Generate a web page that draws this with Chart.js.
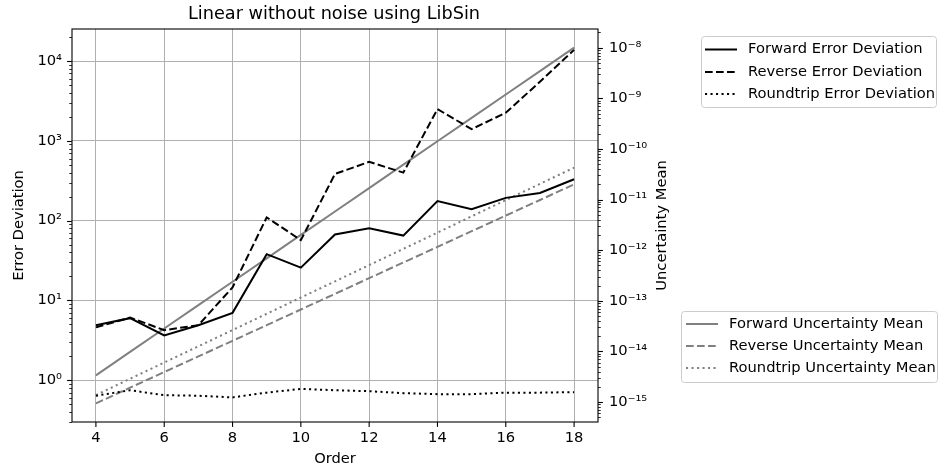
<!DOCTYPE html>
<html>
<head>
<meta charset="utf-8">
<script src="https://cdn.jsdelivr.net/npm/chart.js@4.4.0/dist/chart.umd.min.js"></script>
<style>
  html, body { margin: 0; padding: 0; background: #fff; }
</style>
</head>
<body>
<canvas id="myChart" width="943" height="469"></canvas>
<script>
// data
const orders = [4, 5, 6, 7, 8, 9, 10, 11, 12, 13, 14, 15, 16, 17, 18];
const xTicks = [4, 6, 8, 10, 12, 14, 16, 18];

const forwardErr = [4.9, 6.0, 3.65, 4.9, 7.0, 38, 25.8, 67, 80, 65, 176, 139, 193, 222, 330];
const reverseErr = [4.6, 6.1, 4.25, 4.9, 14.6, 110, 57, 385, 545, 400, 2500, 1400, 2250, 5500, 13800];
const roundErr = [0.64, 0.75, 0.65, 0.64, 0.61, 0.70, 0.78, 0.75, 0.73, 0.69, 0.67, 0.67, 0.70, 0.70, 0.71];

const forwardUnc = [3.37e-15, 9.8e-15, 2.83e-14, 8.2e-14, 2.38e-13, 6.9e-13, 2.0e-12, 5.8e-12, 1.68e-11, 4.9e-11, 1.42e-10, 4.1e-10, 1.19e-9, 3.45e-9, 1.0e-8];
const reverseUnc = [9.4e-16, 1.92e-15, 3.91e-15, 7.96e-15, 1.62e-14, 3.3e-14, 6.73e-14, 1.37e-13, 2.8e-13, 5.7e-13, 1.16e-12, 2.37e-12, 4.82e-12, 9.8e-12, 2.0e-11];
const roundUnc = [1.37e-15, 2.88e-15, 6.03e-15, 1.26e-14, 2.64e-14, 5.53e-14, 1.16e-13, 2.42e-13, 5.07e-13, 1.06e-12, 2.22e-12, 4.66e-12, 9.75e-12, 2.04e-11, 4.27e-11];

const leftDecades = [1, 10, 100, 1000, 10000];
const rightDecades = [1e-15, 1e-14, 1e-13, 1e-12, 1e-11, 1e-10, 1e-9, 1e-8];

const FONT = '"DejaVu Sans", Verdana, sans-serif';
const FS = 14.7;
const DASH = [7.7, 3.3];
const DOT = [2.1, 3.4];

function pts(vals) {
    return orders.map(function(o, i) { return { x: o, y: vals[i] }; });
}

var supMap = { '-': '\u207B', '0': '\u2070', '1': '\u00B9', '2': '\u00B2', '3': '\u00B3',
    '4': '\u2074', '5': '\u2075', '6': '\u2076', '7': '\u2077', '8': '\u2078', '9': '\u2079' };
function powLabel(v) {
    var e = Math.round(Math.log10(v));
    return '10' + String(e).split('').map(function(c) { return supMap[c]; }).join('');
}

function line(label, vals, color, dash, axis) {
    return {
        label: label,
        data: pts(vals),
        yAxisID: axis,
        borderColor: color,
        backgroundColor: color,
        borderWidth: 2,
        borderDash: dash,
        borderCapStyle: 'butt',
        pointRadius: 0,
        tension: 0,
        fill: false
    };
}

// frame, tick marks, title, right axis label, the two legends
const decor = {
    id: 'decor',
    afterDraw: function(chart) {
        var ctx = chart.ctx, a = chart.chartArea;
        var yl = chart.scales.yLeft, yr = chart.scales.yRight, x = chart.scales.x;
        ctx.save();
        ctx.strokeStyle = '#000';
        ctx.lineWidth = 1.1;
        ctx.strokeRect(a.left, a.top, a.right - a.left, a.bottom - a.top);

        function tick(x1, y1, x2, y2, w) {
            ctx.lineWidth = w;
            ctx.beginPath(); ctx.moveTo(x1, y1); ctx.lineTo(x2, y2); ctx.stroke();
        }
        xTicks.forEach(function(v) {
            var px = x.getPixelForValue(v);
            tick(px, a.bottom, px, a.bottom + 4.9, 1.1);
        });
        function logTicks(scale, side) {
            var lo = Math.floor(Math.log10(scale.min)), hi = Math.ceil(Math.log10(scale.max));
            for (var d = lo; d <= hi; d++) {
                for (var k = 1; k <= 9; k++) {
                    var v = k * Math.pow(10, d);
                    if (v < scale.min || v > scale.max) continue;
                    var py = Math.round(scale.getPixelForValue(v)) + 0.5;
                    var len = k === 1 ? 4.9 : 2.8;
                    var w = k === 1 ? 1.1 : 0.8;
                    if (side < 0) tick(a.left - len, py, a.left, py, w);
                    else tick(a.right, py, a.right + len, py, w);
                }
            }
        }
        logTicks(yl, -1);
        logTicks(yr, 1);

        ctx.fillStyle = '#000';
        ctx.textAlign = 'center';
        ctx.textBaseline = 'middle';
        ctx.font = '17.7px ' + FONT;
        ctx.fillText('Linear without noise using LibSin', (a.left + a.right) / 2 - 1, 14);

        ctx.save();
        ctx.font = FS + 'px ' + FONT;
        ctx.translate(662, (a.top + a.bottom) / 2);
        ctx.rotate(-Math.PI / 2);
        ctx.fillText('Uncertainty Mean', 0, 0);
        ctx.restore();

        function legend(box, items, sx, tx, rows) {
            ctx.save();
            ctx.globalAlpha = 0.8;
            ctx.fillStyle = '#fff';
            ctx.strokeStyle = '#cccccc';
            ctx.lineWidth = 1;
            ctx.beginPath();
            ctx.roundRect(box[0] + 0.5, box[1] + 0.5, box[2], box[3], 3);
            ctx.fill();
            ctx.globalAlpha = 1;
            ctx.stroke();
            ctx.restore();
            items.forEach(function(ds, i) {
                ctx.save();
                ctx.strokeStyle = ds.borderColor;
                ctx.lineWidth = 2;
                ctx.lineCap = 'butt';
                ctx.setLineDash(ds.borderDash);
                ctx.beginPath();
                ctx.moveTo(sx, rows[i]); ctx.lineTo(sx + 32, rows[i]);
                ctx.stroke();
                ctx.restore();
                ctx.fillStyle = '#000';
                ctx.textAlign = 'left';
                ctx.textBaseline = 'middle';
                ctx.font = FS + 'px ' + FONT;
                ctx.fillText(ds.label, tx, rows[i]);
            });
        }
        var ds = chart.data.datasets;
        legend([701, 36, 235, 71], [ds[0], ds[1], ds[2]], 705, 748, [49.5, 72, 94]);
        legend([681, 311, 256, 71], [ds[3], ds[4], ds[5]], 686, 729, [324, 346, 368]);
        ctx.restore();
    }
};

new Chart(document.getElementById('myChart'), {
    type: 'line',
    data: {
        datasets: [
            line('Forward Error Deviation', forwardErr, '#000000', [], 'yLeft'),
            line('Reverse Error Deviation', reverseErr, '#000000', DASH, 'yLeft'),
            line('Roundtrip Error Deviation', roundErr, '#000000', DOT, 'yLeft'),
            line('Forward Uncertainty Mean', forwardUnc, '#808080', [], 'yRight'),
            line('Reverse Uncertainty Mean', reverseUnc, '#808080', DASH, 'yRight'),
            line('Roundtrip Uncertainty Mean', roundUnc, '#808080', DOT, 'yRight')
        ]
    },
    options: {
        responsive: false,
        animation: false,
        devicePixelRatio: 1,
        layout: { padding: { top: 29, right: 273, bottom: 0, left: 0 } },
        plugins: {
            legend: { display: false },
            tooltip: { enabled: false },
            title: { display: false }
        },
        scales: {
            x: {
                type: 'linear',
                min: 3.3,
                max: 18.7,
                afterBuildTicks: function(s) { s.ticks = xTicks.map(function(v) { return { value: v }; }); },
                afterFit: function(s) { s.height = 47; },
                grid: { color: '#b0b0b0', lineWidth: 1, drawTicks: false },
                border: { display: false },
                ticks: { color: '#000', padding: 7, font: { family: FONT, size: FS },
                    callback: function(v) { return String(v); } },
                title: { display: true, text: 'Order', color: '#000', font: { family: FONT, size: FS },
                    padding: { top: 0, bottom: 1 } }
            },
            yLeft: {
                type: 'logarithmic',
                position: 'left',
                min: 0.3,
                max: 2.52e4,
                afterBuildTicks: function(s) { s.ticks = leftDecades.map(function(v) { return { value: v }; }); },
                afterFit: function(s) { s.width = 72; },
                grid: { color: '#b0b0b0', lineWidth: 1, drawTicks: false },
                border: { display: false },
                ticks: { color: '#000', padding: 10, font: { family: FONT, size: FS },
                    callback: function(v) { return powLabel(v); } },
                title: { display: true, text: 'Error Deviation', color: '#000', font: { family: FONT, size: FS },
                    padding: { top: 10, bottom: 0 } }
            },
            yRight: {
                type: 'logarithmic',
                position: 'right',
                min: 4.03e-16,
                max: 2.34e-8,
                afterBuildTicks: function(s) { s.ticks = rightDecades.map(function(v) { return { value: v }; }); },
                afterFit: function(s) { s.width = 72; },
                grid: { display: false, drawTicks: false },
                border: { display: false },
                ticks: { color: '#000', padding: 11, font: { family: FONT, size: FS },
                    callback: function(v) { return powLabel(v); } }
            }
        }
    },
    plugins: [decor]
});
</script>
</body>
</html>
